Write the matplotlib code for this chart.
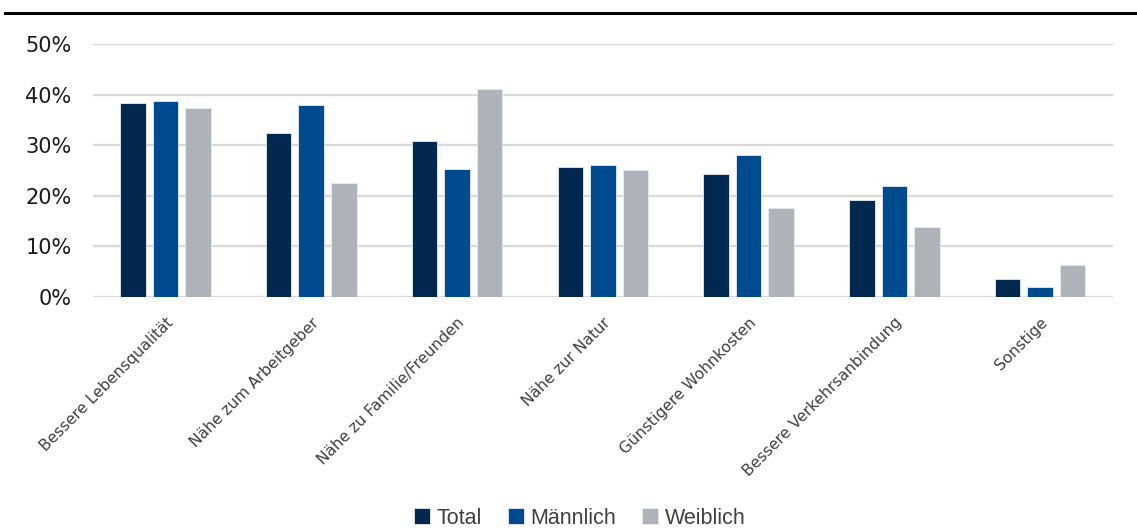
import numpy as np
import matplotlib.pyplot as plt
from matplotlib.lines import Line2D

# Data (shares in %)
categories = ['Bessere Lebensqualität', 'Nähe zum Arbeitgeber', 'Nähe zu Familie/Freunden',
              'Nähe zur Natur', 'Günstigere Wohnkosten', 'Bessere Verkehrsanbindung', 'Sonstige']
total = [38.3, 32.5, 30.8, 25.6, 24.3, 19.2, 3.5]
maennlich = [38.7, 37.9, 25.3, 26.0, 28.0, 22.0, 2.0]
weiblich = [37.4, 22.5, 41.2, 25.0, 17.5, 13.8, 6.3]
series_names = ['Total', 'Männlich', 'Weiblich']
yticks = [0, 10, 20, 30, 40, 50]

colors = ['#03284F', '#004A8F', '#ADB3B8']

fig = plt.figure(figsize=(11.37, 5.29), dpi=100)
ax = fig.add_axes([0.0814, 0.4386, 0.979 - 0.0814, 0.9168 - 0.4386])

x = np.arange(len(categories))
width = 0.175
step = 0.223
for i, (vals, col) in enumerate(zip([total, maennlich, weiblich], colors)):
    ax.bar(x + (i - 1) * step, vals, width, color=col, edgecolor='#E8ECF0', linewidth=0.6,
           zorder=3, label=series_names[i])

ax.set_xlim(-0.5, len(categories) - 0.5)
ax.set_ylim(0, 50)
ax.set_yticks(yticks)
ax.set_yticklabels(['%d%%' % t for t in yticks])
ax.yaxis.grid(True, color='#D9D9D9', linewidth=1.6, zorder=0)
ax.set_axisbelow(True)
for s in ax.spines.values():
    s.set_visible(False)
ax.tick_params(axis='y', length=0, pad=15, labelsize=15, labelcolor='#1A1A1A')
ax.tick_params(axis='x', length=0, pad=13)
ax.set_xticks(x)
ax.set_xticklabels(categories, rotation=45, ha='right', rotation_mode='anchor',
                   fontsize=11.2, color='#404040')

# black rule at the top
fig.add_artist(Line2D([0.004, 1.0], [1 - 13 / 529, 1 - 13 / 529], color='black', linewidth=2.2))

handles, labels = ax.get_legend_handles_labels()
fig.legend(handles, labels, loc='center', bbox_to_anchor=(0.51, 1 - 518 / 529), ncol=3,
           frameon=False, handlelength=0.75, handleheight=0.75,
           handletextpad=0.3, columnspacing=1.2, labelcolor='#404040',
           prop={'family': 'Liberation Sans', 'size': 15.5})

fig.savefig('out.png', dpi=100)
